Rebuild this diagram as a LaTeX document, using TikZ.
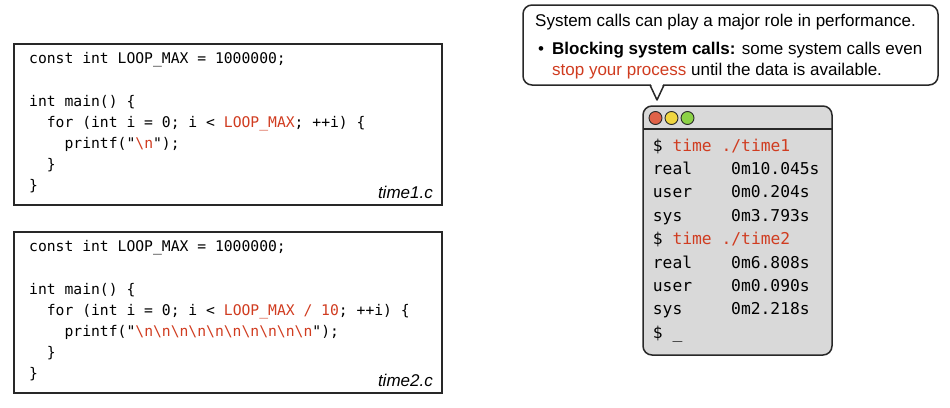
\documentclass[tikz,border=0pt]{standalone}
\usepackage{fontspec}
\setmainfont{Liberation Sans}
\setsansfont{Liberation Sans}
\setmonofont{DejaVu Sans Mono}
\definecolor{hot}{RGB}{208,60,32}
\definecolor{termgray}{RGB}{217,217,217}
\definecolor{inkgray}{RGB}{40,40,40}
\definecolor{lampred}{RGB}{224,98,72}
\definecolor{lampyellow}{RGB}{240,214,64}
\definecolor{lampgreen}{RGB}{140,210,70}

\begin{document}
\begin{tikzpicture}[x=1pt,y=-1pt,
  sketch/.style={draw=inkgray,line width=1.5pt},
  code/.style={anchor=base west,inner sep=0pt,font=\fontsize{14.7}{17}\ttfamily},
  term/.style={anchor=base west,inner sep=0pt,font=\fontsize{16.3}{19}\ttfamily},
  fname/.style={anchor=base east,inner sep=0pt,font=\fontsize{17}{20}\itshape},
  say/.style={anchor=base west,inner sep=0pt,font=\fontsize{17}{20}\selectfont},
  lamp/.style={circle,draw=inkgray,line width=0.9pt,minimum size=13pt,inner sep=0pt}]
\useasboundingbox (0,0) rectangle (950,407);

\draw[sketch] (14,44) rectangle (442,205);
\node[code] (a1) at (29,63.6) {const int LOOP\_MAX = 1000000;};
\node[code] (a2) at (29,106) {int main() \{};
\node[code] (a3) at (46.7,127.2) {for (int i = 0; i < \textcolor{hot}{LOOP\_MAX}; ++i) \{};
\node[code] (a4) at (64.4,148.4) {printf("\textcolor{hot}{\textbackslash n}");};
\node[code] (a5) at (46.7,169.6) {\}};
\node[code] (a6) at (29,190.8) {\}};
\node[fname] (afile) at (433,198) {time1.c};

\draw[sketch] (14,232) rectangle (442,393);
\node[code] (b1) at (29,251.6) {const int LOOP\_MAX = 1000000;};
\node[code] (b2) at (29,294) {int main() \{};
\node[code] (b3) at (46.7,315.2) {for (int i = 0; i < \textcolor{hot}{LOOP\_MAX / 10}; ++i) \{};
\node[code] (b4) at (64.4,336.4) {printf("\textcolor{hot}{\textbackslash n\textbackslash n\textbackslash n\textbackslash n\textbackslash n\textbackslash n\textbackslash n\textbackslash n\textbackslash n\textbackslash n}");};
\node[code] (b5) at (46.7,357.6) {\}};
\node[code] (b6) at (29,378.8) {\}};
\node[fname] (bfile) at (433,386) {time2.c};

\draw[sketch,fill=white,rounded corners=9] (523,5) rectangle (938,85);
\fill[white] (650.5,83) -- (663.5,83) -- (657,99) -- cycle;
\draw[sketch,line join=round] (650,85) -- (657,100) -- (664,85);
\node[say] (s1) at (535,26) {System calls can play a major role in performance.};
\node[say] (s2) at (538,54.3) {•};
\node[say] (s3) at (552,54.3) {\textbf{Blocking system calls:} some system calls even};
\node[say] (s4) at (552,75) {\textcolor{hot}{stop your process} until the data is available.};

\draw[sketch,fill=termgray,rounded corners=9] (643,106) rectangle (832,355);
\draw[sketch] (643,129) -- (832,129);
\node[lamp,fill=lampred] (l1) at (655.5,118) {};
\node[lamp,fill=lampyellow] (l2) at (671.5,118) {};
\node[lamp,fill=lampgreen] (l3) at (687.5,118) {};

\node[term] (t1) at (652.7,151) {\$ \textcolor{hot}{time ./time1}};
\node[term] (t2) at (652.7,174.4) {real};
\node[term] (t2v) at (731,174.4) {0m10.045s};
\node[term] (t3) at (652.7,197.8) {user};
\node[term] (t3v) at (731,197.8) {0m0.204s};
\node[term] (t4) at (652.7,221.2) {sys};
\node[term] (t4v) at (731,221.2) {0m3.793s};
\node[term] (t5) at (652.7,244.6) {\$ \textcolor{hot}{time ./time2}};
\node[term] (t6) at (652.7,268) {real};
\node[term] (t6v) at (731,268) {0m6.808s};
\node[term] (t7) at (652.7,291.4) {user};
\node[term] (t7v) at (731,291.4) {0m0.090s};
\node[term] (t8) at (652.7,314.8) {sys};
\node[term] (t8v) at (731,314.8) {0m2.218s};
\node[term] (t9) at (652.7,338.2) {\$ \_};
\end{tikzpicture}
\end{document}
